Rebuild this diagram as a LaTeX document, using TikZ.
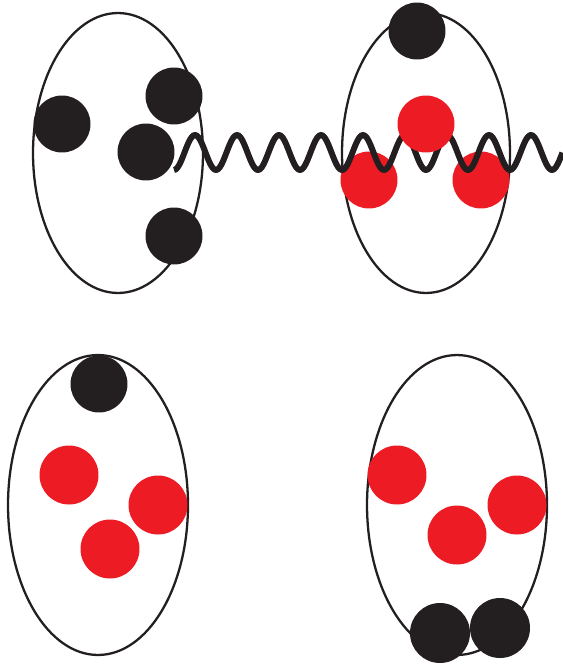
\documentclass[tikz,border=0pt]{standalone}
\usepackage{tikz}
\usetikzlibrary{shapes.geometric}
\definecolor{inkblack}{HTML}{231F20}
\definecolor{inkred}{HTML}{ED1C24}

\begin{document}
\begin{tikzpicture}[
      x=0.02cm,y=-0.02cm,
      bag/.style={draw=inkblack,ellipse,line width=1.3pt,inner sep=0pt},
      dark/.style={circle,fill=inkblack,inner sep=0pt,minimum size=1.14cm},
      lit/.style={circle,fill=inkred,inner sep=0pt,minimum size=1.14cm},
      wave/.style={draw=inkblack,line width=3.4pt,line join=round},
    ]
    \useasboundingbox (0,0) rectangle (563,666);

    % Bags
    \node[bag,minimum width=3.4cm,minimum height=5.6cm] (bagA) at (118,153) {};
    \node[bag,minimum width=3.36cm,minimum height=5.6cm] (bagB) at (426,153) {};
    \node[bag,minimum width=3.6cm,minimum height=6cm] (bagC) at (98,505) {};
    \node[bag,minimum width=3.6cm,minimum height=6cm] (bagD) at (457,505) {};

    % Top left: four dark particles
    \foreach \n/\p in {a1/{62,124},a2/{174,96},a3/{146,152},a4/{174,236}}
      \node[dark] (\n) at (\p) {};

    % Top right
    \node[dark] (b1) at (417,31) {};
    \node[lit]  (b3) at (369,180) {};
    \node[lit]  (b4) at (481,180) {};

    % Wave leaving the top left bag
    \draw[wave] plot[domain=0:9.25,samples=240]
      ({174+42*\x},{152.5+17.5*cos(360*\x)});

    \node[lit]  (b2) at (426,124) {};

    % Bottom left
    \node[dark] (c1) at (99,384) {};
    \foreach \n/\p in {c2/{69,475},c3/{158,505},c4/{110,549}}
      \node[lit,minimum size=1.18cm] (\n) at (\p) {};

    % Bottom right
    \foreach \n/\p in {d1/{397,475},d2/{517,505},d3/{457,535}}
      \node[lit,minimum size=1.18cm] (\n) at (\p) {};
    \foreach \n/\p in {d4/{440,633},d5/{500,628}}
      \node[dark,minimum size=1.2cm] (\n) at (\p) {};

  \end{tikzpicture}
\end{document}
